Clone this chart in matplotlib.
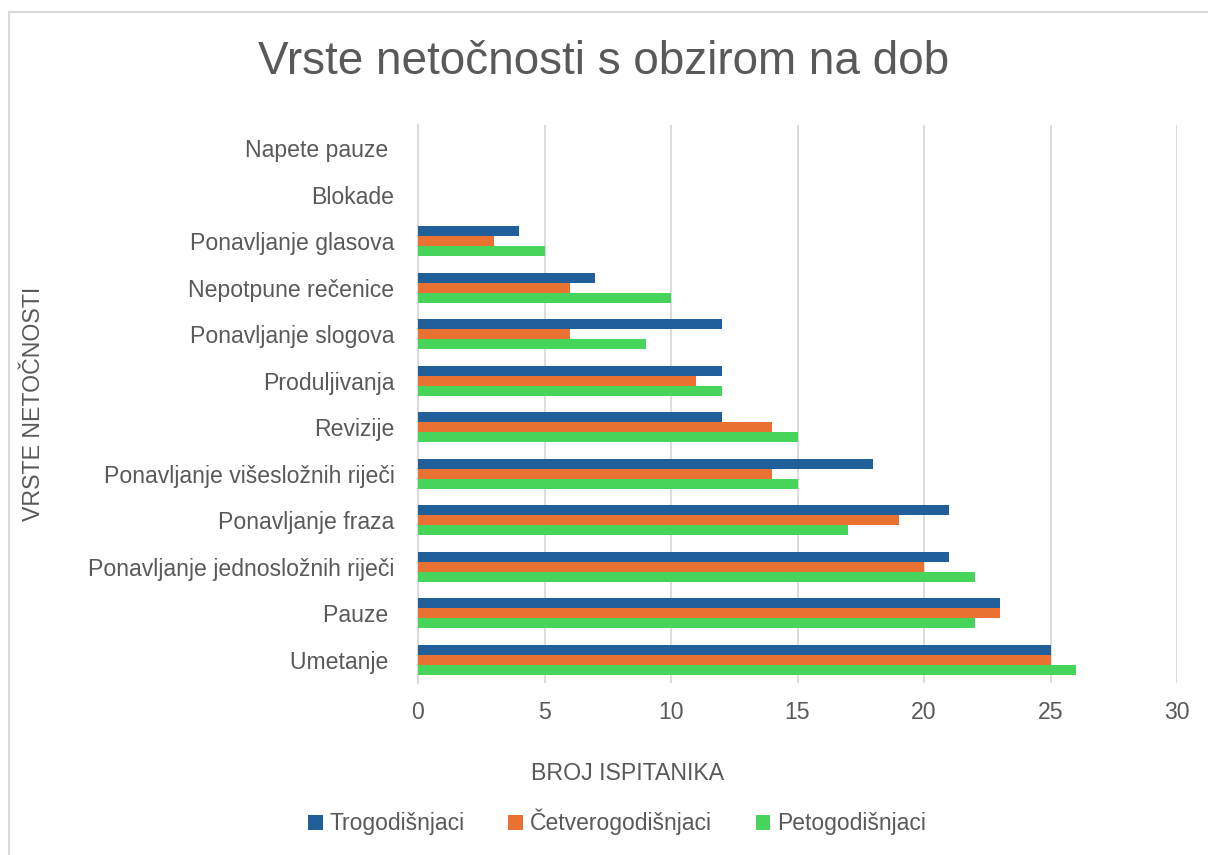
import numpy as np
import matplotlib.pyplot as plt
from matplotlib.patches import Rectangle

# categories from bottom to top
categories = ["Umetanje ", "Pauze ", "Ponavljanje jednosložnih riječi", "Ponavljanje fraza",
              "Ponavljanje višesložnih riječi", "Revizije", "Produljivanja", "Ponavljanje slogova",
              "Nepotpune rečenice", "Ponavljanje glasova", "Blokade", "Napete pauze "]
trogodisnjaci = [25, 23, 21, 21, 18, 12, 12, 12, 7, 4, 0, 0]
cetverogodisnjaci = [25, 23, 20, 19, 14, 14, 11, 6, 6, 3, 0, 0]
petogodisnjaci = [26, 22, 22, 17, 15, 15, 12, 9, 10, 5, 0, 0]
series_names = ["Trogodišnjaci", "Četverogodišnjaci", "Petogodišnjaci"]
colors = ["#215F9A", "#E97132", "#47D45A"]
xticks = [0, 5, 10, 15, 20, 25, 30]

text_col = "#595959"
plt.rcParams['font.family'] = ['Liberation Sans', 'DejaVu Sans']

fig = plt.figure(figsize=(12.08, 8.55), dpi=100)
fig.patches.append(Rectangle((9 / 1208, -0.05), 1.1, 1 - 12 / 855 + 0.05, transform=fig.transFigure,
                             fill=False, edgecolor="#D9D9D9", linewidth=1.5))

ax = fig.add_axes([418 / 1208, 1 - 683 / 855, (1177 - 418) / 1208, (683 - 125) / 855])

y = np.arange(len(categories))
h = 0.215
for i, (vals, c, name) in enumerate(zip([trogodisnjaci, cetverogodisnjaci, petogodisnjaci], colors, series_names)):
    ax.barh(y + (1 - i) * h, vals, height=h, color=c, label=name, zorder=3)

ax.set_xlim(0, 30)
ax.set_ylim(-0.5, len(categories) - 0.5)
ax.set_xticks(xticks)
ax.set_yticks(y)
ax.set_yticklabels(categories)
ax.grid(axis="x", color="#D9D9D9", linewidth=1.3, zorder=0)
for s in ["top", "right", "bottom"]:
    ax.spines[s].set_visible(False)
ax.spines["left"].set_color("#D9D9D9")
ax.spines["left"].set_linewidth(1.3)
ax.tick_params(axis="both", length=0, labelsize=16.6, labelcolor=text_col)
ax.tick_params(axis="x", pad=13)
ax.tick_params(axis="y", pad=17)

fig.text(0.5, 1 - 62 / 855, "Vrste netočnosti s obzirom na dob", ha="center", va="center",
         fontsize=33, color=text_col)
fig.text(628 / 1208, 1 - 773 / 855, "BROJ ISPITANIKA", ha="center", va="center",
         fontsize=16.7, color=text_col)
fig.text(34 / 1208, 1 - 404 / 855, "VRSTE NETOČNOSTI", ha="center", va="center",
         rotation=90, fontsize=16.7, color=text_col)

leg = fig.legend(loc="center", bbox_to_anchor=(617 / 1208, 1 - 822 / 855), ncol=3, frameon=False,
                 fontsize=16.5, handlelength=0.65, handleheight=0.65, handletextpad=0.3,
                 columnspacing=1.9, labelcolor=text_col)

fig.savefig("out.png", dpi=100)
